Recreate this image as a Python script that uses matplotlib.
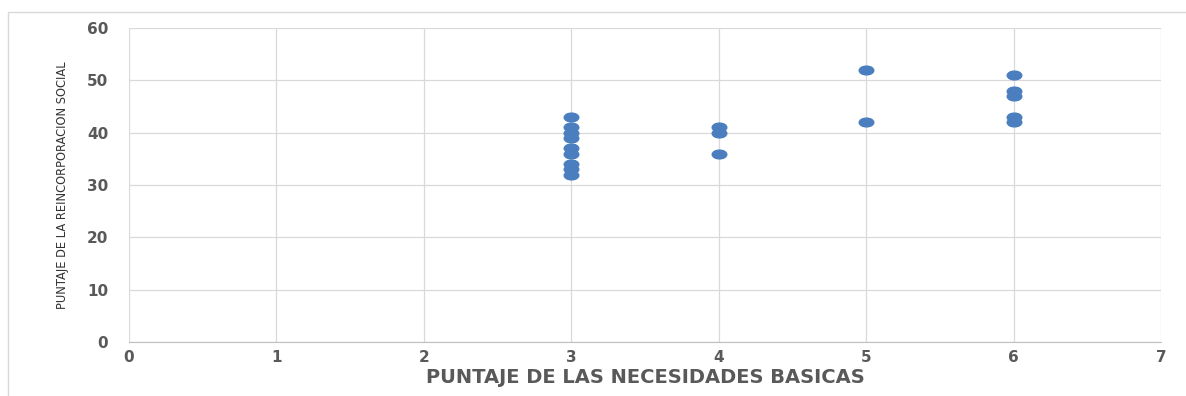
import numpy as np
import matplotlib
matplotlib.use("Agg")
from matplotlib import pyplot as plt
from matplotlib.path import Path
from matplotlib.transforms import Affine2D
from matplotlib.patches import Rectangle

# puntaje de las necesidades basicas (x) y de la reincorporacion social (y)
necesidades = [3, 3, 3, 3, 3, 3, 3, 3, 3,
               4, 4, 4,
               5, 5,
               6, 6, 6, 6, 6]
reincorporacion = [43, 41, 40, 39, 37, 36, 34, 33, 32,
                   41, 40, 36,
                   52, 42,
                   51, 48, 47, 43, 42]

x_ticks = [0, 1, 2, 3, 4, 5, 6, 7]
y_ticks = [0, 10, 20, 30, 40, 50, 60]

fig = plt.figure(figsize=(11.86, 3.96), dpi=100)
W, H = 1186, 396
ax = fig.add_axes([129 / W, 1 - 342 / H, (1161 - 129) / W, (342 - 28) / H])

# outer chart frame (right and bottom edges run off the image)
fig.patches.append(Rectangle((8 / W, -0.1), 1.2, 1.1 - 12 / H, transform=fig.transFigure,
                             fill=False, edgecolor='#d9d9d9', linewidth=1.0))

ellipse = Path.unit_circle().transformed(Affine2D().scale(1.0, 0.6))
ax.plot(necesidades, reincorporacion, linestyle='none', marker=ellipse,
        markersize=10.5, color='#4a7ebf', zorder=3, clip_on=False)

ax.set_xlim(0, 7)
ax.set_ylim(0, 60)
ax.set_xticks(x_ticks)
ax.set_yticks(y_ticks)
ax.grid(True, color='#d9d9d9', linewidth=0.9)
ax.set_axisbelow(True)
for s in ['top', 'right', 'left']:
    ax.spines[s].set_visible(False)
ax.spines['bottom'].set_color('#bfbfbf')
ax.tick_params(length=0, colors='#595959', labelsize=11)
ax.tick_params(axis='x', pad=6)
ax.tick_params(axis='y', pad=15)
for lab in ax.get_xticklabels() + ax.get_yticklabels():
    lab.set_fontweight('bold')

ax.set_xlabel('PUNTAJE DE LAS NECESIDADES BASICAS', fontsize=14, fontweight='bold',
              color='#595959', labelpad=2)
ax.set_ylabel('PUNTAJE DE LA REINCORPORACION SOCIAL', fontsize=9.2,
              family=['DejaVu Sans'], fontstretch='condensed', color='#333333', labelpad=13)

fig.savefig('out.png', dpi=100)
